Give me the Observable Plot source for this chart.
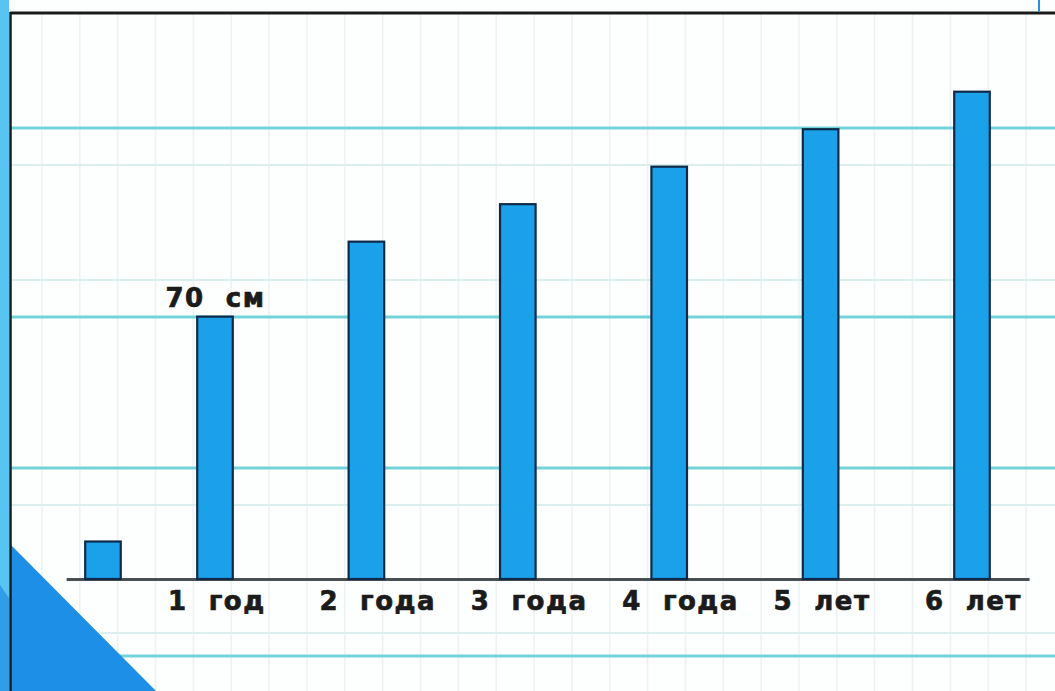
<!DOCTYPE html>
<html>
<head>
<meta charset="utf-8">
<script src="https://cdn.jsdelivr.net/npm/d3@7"></script>
<script src="https://cdn.jsdelivr.net/npm/@observablehq/plot@0.6"></script>
<style>
  html, body { margin: 0; padding: 0; background: #ffffff; }
  #chart svg text { white-space: pre; }
</style>
</head>
<body>
<div id="chart"></div>
<script>
// ---- data ----
const positions = [0.26, 1, 2, 3, 4, 5, 6];          // place along the age axis (first = 10 cm unit sample)
const heights   = [10, 70, 90, 100, 110, 120, 130];  // cm
const labels    = ["", "1  год", "2  года", "3  года", "4  года", "5  лет", "6  лет"];
const annotations = ["", "70  см", "", "", "", "", ""];

const data = positions.map((p, i) => ({pos: p, h: heights[i], label: labels[i], note: annotations[i]}));

const W = 0.235;
const font = "DejaVu Sans";
const textStyle = {fontSize: 26, fontWeight: "bold", fontFamily: font, fill: "#1b1b1b", stroke: "#1b1b1b", strokeWidth: 0.7};

const chart = Plot.plot({
  width: 1055,
  height: 691,
  marginLeft: 63.6,
  marginRight: 7.3,
  marginTop: 13,
  marginBottom: 112,
  x: {domain: [0, 6.5], axis: null},
  y: {domain: [0, 151], axis: null},
  style: {background: "transparent", overflow: "visible"},
  marks: [
    Plot.ruleY([0], {x1: positions[0] - 0.24, x2: positions[positions.length - 1] + 0.38, stroke: "#4a4f52", strokeWidth: 3}),
    Plot.rectY(data, {x1: d => d.pos - W / 2, x2: d => d.pos + W / 2, y: "h", fill: "#1ba0ea", stroke: "#0e2a48", strokeWidth: 2.2, inset: 0}),
    Plot.text(data.filter(d => d.label), {x: "pos", y: 0, text: "label", textAnchor: "start", lineAnchor: "bottom", dx: -47.5, dy: 30, ...textStyle}),
    Plot.text(data.filter(d => d.note), {x: "pos", y: "h", text: "note", textAnchor: "start", lineAnchor: "bottom", dx: -50, dy: -10, ...textStyle})
  ]
});

d3.select(chart).selectAll("text").style("letter-spacing", "1.5px");

// ---- notebook paper background (decoration) ----
const svg = d3.select(chart);
const bg = svg.insert("g", ":first-child");
bg.append("rect").attr("x", 0).attr("y", 0).attr("width", 1055).attr("height", 691).attr("fill", "#fdfefe");
for (let x = 42; x < 1055; x += 37.85) {
  bg.append("line").attr("x1", x).attr("x2", x).attr("y1", 14).attr("y2", 691)
    .attr("stroke", "#edf3f4").attr("stroke-width", 1.6);
}
[165, 280, 505, 633].forEach(y => bg.append("line").attr("x1", 10).attr("x2", 1055).attr("y1", y).attr("y2", y)
  .attr("stroke", "#dcefef").attr("stroke-width", 2));
[128, 317, 468, 656].forEach(y => bg.append("line").attr("x1", 10).attr("x2", 1055).attr("y1", y).attr("y2", y)
  .attr("stroke", "#74d3d9").attr("stroke-width", 3));

// frame + corner decoration drawn on top
const fg = svg.append("g");
fg.append("rect").attr("x", 0).attr("y", 0).attr("width", 9).attr("height", 691).attr("fill", "#58c4f1");
fg.append("polygon").attr("points", "0,585 9,598 9,691 0,691").attr("fill", "#2f9de8");
fg.append("polygon").attr("points", "11,545 156,691 11,691").attr("fill", "#1e8fe6");
fg.append("line").attr("x1", 10).attr("x2", 1055).attr("y1", 13).attr("y2", 13).attr("stroke", "#1a1a1a").attr("stroke-width", 3);
fg.append("line").attr("x1", 10.5).attr("x2", 10.5).attr("y1", 12).attr("y2", 691).attr("stroke", "#1a1a1a").attr("stroke-width", 2.5);
fg.append("line").attr("x1", 1039).attr("x2", 1039).attr("y1", 0).attr("y2", 12).attr("stroke", "#2a8fe0").attr("stroke-width", 2);

document.getElementById("chart").appendChild(chart);
</script>
</body>
</html>
